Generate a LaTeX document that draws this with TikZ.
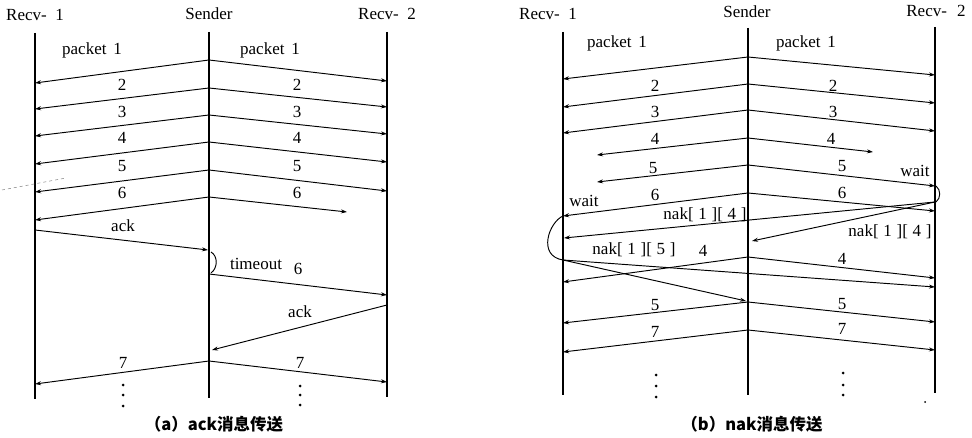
\documentclass[tikz,border=0pt]{standalone}
\usepackage{fontspec}
\setmainfont{Liberation Serif}
\newfontfamily\cjkfont{Noto Sans CJK SC}
\usetikzlibrary{arrows.meta}
\begin{document}
\begin{tikzpicture}[x=1pt,y=-1pt,
  life/.style={line width=1.1pt},
  msg/.style={line width=0.95pt,-{Stealth[length=6pt,width=4pt]}},
  bracket/.style={line width=0.95pt},
  lbl/.style={font=\fontsize{17}{17}\selectfont,inner sep=0pt},
  captext/.style={font=\cjkfont\bfseries\fontsize{16.5}{17}\selectfont,inner sep=0pt},
  vdot/.style={circle,fill,inner sep=0pt,minimum size=3pt},
  stray/.style={gray,dashed,line width=0.5pt}]
\useasboundingbox (0,0) rectangle (972,438);

% ---------------- (a) ack-based transfer ----------------
\node[lbl] (aHR1) at (35,15) {Recv-\hspace{0.5em}1};
\node[lbl] (aHS)  at (209,14) {Sender};
\node[lbl] (aHR2) at (387,14) {Recv-\hspace{0.5em}2};

\coordinate (aR1top) at (35,33);  \coordinate (aR1bot) at (35,399);
\coordinate (aStop)  at (209,32); \coordinate (aSbot)  at (209,398);
\coordinate (aR2top) at (387,32); \coordinate (aR2bot) at (387,397);
\draw[life] (aR1top) -- (aR1bot);
\draw[life] (aStop) -- (aSbot);
\draw[life] (aR2top) -- (aR2bot);

\foreach \n/\ys/\yl/\yr in {1/60/83/81,2/88/109/107,3/115/136/134,4/142/164/162,5/170/192/191}{
  \coordinate (aS\n) at (209,\ys);
  \coordinate (aL\n) at (35,\yl);
  \coordinate (aR\n) at (387,\yr);
  \draw[msg] (aS\n) -- (aL\n);
  \draw[msg] (aS\n) -- (aR\n);
}
\coordinate (aS6) at (209,197); \coordinate (aL6) at (35,220); \coordinate (aR6) at (347,212);
\draw[msg] (aS6) -- (aL6);
\draw[msg] (aS6) -- (aR6);

\coordinate (aAckA) at (35,230); \coordinate (aAckB) at (208,250);
\draw[msg] (aAckA) -- (aAckB);

\coordinate (aTo1) at (211,252); \coordinate (aTo2) at (211,273);
\draw[bracket] (aTo1) .. controls (218,256) and (218,268) .. (aTo2);

\coordinate (aS6b) at (209,274); \coordinate (aR6b) at (387,295);
\draw[msg] (aS6b) -- (aR6b);

\coordinate (aAck2A) at (387,305); \coordinate (aAck2B) at (212,350);
\draw[msg] (aAck2A) -- (aAck2B);

\coordinate (aS7) at (209,361); \coordinate (aL7) at (35,384); \coordinate (aR7) at (387,382);
\draw[msg] (aS7) -- (aL7);
\draw[msg] (aS7) -- (aR7);

\coordinate (aStrayA) at (2,190); \coordinate (aStrayB) at (66,178);
\draw[stray] (aStrayA) -- (aStrayB);

\node[lbl] (aP1l) at (92,50)  {packet\hspace{0.4em}1};
\node[lbl] (aP1r) at (270,50) {packet\hspace{0.4em}1};
\node[lbl] (aP2l) at (122,85) {2};   \node[lbl] (aP2r) at (297,85) {2};
\node[lbl] (aP3l) at (122,112) {3};  \node[lbl] (aP3r) at (297,112) {3};
\node[lbl] (aP4l) at (122,138) {4};  \node[lbl] (aP4r) at (297,138) {4};
\node[lbl] (aP5l) at (122,166) {5};  \node[lbl] (aP5r) at (297,166) {5};
\node[lbl] (aP6l) at (122,193) {6};  \node[lbl] (aP6r) at (297,193) {6};
\node[lbl] (aAck) at (123,226) {ack};
\node[lbl] (aTimeout) at (256,264) {timeout};
\node[lbl] (aP6t) at (298,269) {6};
\node[lbl] (aAck2) at (300,312) {ack};
\node[lbl] (aP7l) at (123,363) {7};  \node[lbl] (aP7r) at (300,363) {7};

\node[vdot] (aDl1) at (123,385) {}; \node[vdot] (aDl2) at (123,395) {}; \node[vdot] (aDl3) at (123,406) {};
\node[vdot] (aDr1) at (300,386) {}; \node[vdot] (aDr2) at (300,395) {}; \node[vdot] (aDr3) at (300,405) {};

\node[captext] (aCap) at (214,424) {（a）ack消息传送};

% ---------------- (b) nak-based transfer ----------------
\node[lbl] (bHR1) at (548,14) {Recv-\hspace{0.5em}1};
\node[lbl] (bHS)  at (747,12) {Sender};
\node[lbl] (bHR2) at (936,11) {Recv-\hspace{0.6em}2};

\coordinate (bR1top) at (563,32); \coordinate (bR1bot) at (563,395);
\coordinate (bStop)  at (748,28); \coordinate (bSbot)  at (748,395);
\coordinate (bR2top) at (935,27); \coordinate (bR2bot) at (935,393);
\draw[life] (bR1top) -- (bR1bot);
\draw[life] (bStop) -- (bSbot);
\draw[life] (bR2top) -- (bR2bot);

\foreach \n/\ys/\yl/\yr in {1/57/79/75,2/84/107/103,3/110/133/131}{
  \coordinate (bS\n) at (748,\ys);
  \coordinate (bL\n) at (563,\yl);
  \coordinate (bR\n) at (935,\yr);
  \draw[msg] (bS\n) -- (bL\n);
  \draw[msg] (bS\n) -- (bR\n);
}
% packet 4 lost on both sides, packet 5 lost at Recv-1
\coordinate (bS4) at (748,138); \coordinate (bL4) at (597,155); \coordinate (bR4) at (873,152);
\draw[msg] (bS4) -- (bL4);
\draw[msg] (bS4) -- (bR4);
\coordinate (bS5) at (748,165); \coordinate (bL5) at (597,182); \coordinate (bR5) at (935,186);
\draw[msg] (bS5) -- (bL5);
\draw[msg] (bS5) -- (bR5);

% Recv-2 waits briefly
\coordinate (bW2a) at (936,186); \coordinate (bW2b) at (936,202);
\draw[bracket] (bW2a) .. controls (941,190) and (941,198) .. (bW2b);

\coordinate (bS6) at (748,193); \coordinate (bL6) at (563,216); \coordinate (bR6) at (935,211);
\draw[msg] (bS6) -- (bL6);
\draw[msg] (bS6) -- (bR6);

% nak[1][4] from Recv-2 to Recv-1 and to Sender
\coordinate (bNak4A) at (935,202);
\coordinate (bNak4L) at (564,238);
\coordinate (bNak4S) at (752,241);
\draw[msg] (bNak4A) -- (bNak4L);
\draw[msg] (bNak4A) -- (bNak4S);

% Recv-1 waits
\coordinate (bW1a) at (563,216); \coordinate (bW1b) at (563,260);
\draw[bracket] (bW1a) .. controls (549,222) and (537,256) .. (bW1b);

% nak[1][5] from Recv-1 to Sender and Recv-2
\coordinate (bNak5S) at (746,301);
\coordinate (bNak5R) at (935,287);
\draw[msg] (bW1b) -- (bNak5S);
\draw[msg] (bW1b) -- (bNak5R);

% retransmissions
\coordinate (bS4b) at (748,257); \coordinate (bL4b) at (563,282); \coordinate (bR4b) at (935,278);
\draw[msg] (bS4b) -- (bL4b);
\draw[msg] (bS4b) -- (bR4b);
\coordinate (bS5b) at (748,302); \coordinate (bL5b) at (563,323); \coordinate (bR5b) at (935,322);
\draw[msg] (bS5b) -- (bL5b);
\draw[msg] (bS5b) -- (bR5b);
\coordinate (bS7) at (748,330); \coordinate (bL7) at (563,352); \coordinate (bR7) at (935,350);
\draw[msg] (bS7) -- (bL7);
\draw[msg] (bS7) -- (bR7);

\node[lbl] (bP1l) at (617,43) {packet\hspace{0.4em}1};
\node[lbl] (bP1r) at (806,43) {packet\hspace{0.4em}1};
\node[lbl] (bP2l) at (655,86) {2};  \node[lbl] (bP2r) at (833,86) {2};
\node[lbl] (bP3l) at (655,112) {3}; \node[lbl] (bP3r) at (833,112) {3};
\node[lbl] (bP4l) at (655,139) {4}; \node[lbl] (bP4r) at (831,139) {4};
\node[lbl] (bP5l) at (653,168) {5}; \node[lbl] (bP5r) at (842,166) {5};
\node[lbl] (bWait2) at (915,171) {wait};
\node[lbl] (bP6l) at (655,195) {6}; \node[lbl] (bP6r) at (842,193) {6};
\node[lbl] (bWait1) at (584,201) {wait};
\node[lbl] (bNak4l) at (705,215) {nak[\;1\;][\;4\;]};
\node[lbl] (bNak4r) at (890,232) {nak[\;1\;][\;4\;]};
\node[lbl] (bNak5) at (634,250) {nak[\;1\;][\;5\;]};
\node[lbl] (bP4bl) at (703,251) {4}; \node[lbl] (bP4br) at (842,259) {4};
\node[lbl] (bP5bl) at (655,305) {5}; \node[lbl] (bP5br) at (842,304) {5};
\node[lbl] (bP7l) at (655,332) {7};  \node[lbl] (bP7r) at (842,329) {7};

\node[vdot] (bDl1) at (656,375) {}; \node[vdot] (bDl2) at (656,386) {}; \node[vdot] (bDl3) at (656,397) {};
\node[vdot] (bDr1) at (843,373) {}; \node[vdot] (bDr2) at (843,385) {}; \node[vdot] (bDr3) at (843,395) {};
\node[vdot,minimum size=2pt] (bSpeck) at (925,402) {};

\node[captext] (bCap) at (752,424) {（b）nak消息传送};
\end{tikzpicture}
\end{document}
